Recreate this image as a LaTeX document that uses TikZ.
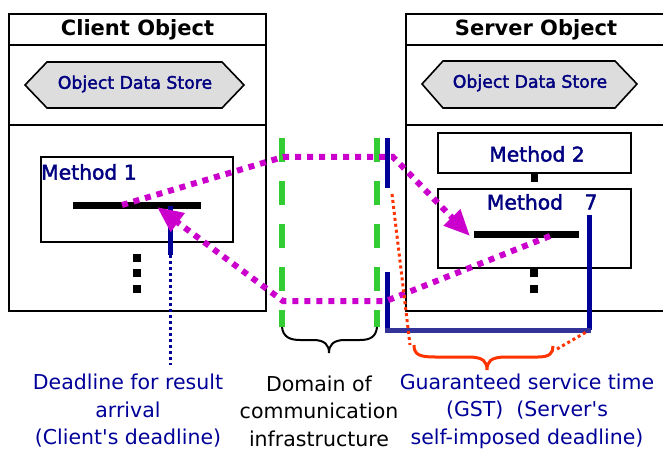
\documentclass[tikz,border=0pt]{standalone}
\usepackage{fontspec}
\setmainfont{DejaVu Sans}
\newfontfamily\semibold[FakeBold=2]{DejaVu Sans}
\newcommand\straightapos{\XeTeXglyph\XeTeXcharglyph"27\relax}
\usetikzlibrary{arrows.meta}
\definecolor{navy}{HTML}{000099}
\definecolor{txtnavy}{HTML}{000080}
\definecolor{mag}{HTML}{CC00CC}
\definecolor{grn}{HTML}{33CC33}
\definecolor{orng}{HTML}{FF3300}
\definecolor{hexgray}{HTML}{DDDDDD}
\definecolor{gstblue}{HTML}{333399}
\begin{document}
\begin{tikzpicture}[x=1pt,y=-1pt,
  frame/.style={draw=black, line width=2pt},
  hexa/.style={draw=black, fill=hexgray, line width=1.6pt},
  methodbox/.style={draw=black, line width=2pt, fill=white},
  titletext/.style={font=\fontsize{21}{24}\selectfont\bfseries, inner sep=0pt},
  storetext/.style={font=\fontsize{17.3}{20}\selectfont\semibold, text=txtnavy, inner sep=0pt},
  methodtext/.style={font=\fontsize{20.3}{24}\selectfont\semibold, text=txtnavy, inner sep=0pt},
  barline/.style={fill=black, inner sep=0pt, minimum height=7pt},
  dotsq/.style={fill=black, inner sep=0pt, minimum width=8pt, minimum height=8pt},
  deadline/.style={draw=navy, line width=5pt},
  msg/.style={draw=mag, line width=6pt, dash pattern=on 6pt off 6pt},
  msgtip/.style={-{Triangle[length=26pt,width=22pt]}},
  infra/.style={draw=grn, line width=6pt, dash pattern=on 24pt off 19pt},
  orangedot/.style={draw=orng, line width=3pt, dash pattern=on 3pt off 3pt},
  bluedot/.style={draw=navy, line width=3pt, dash pattern=on 3pt off 3pt},
  label/.style={font=\fontsize{20.5}{27.5}\selectfont, align=center, inner sep=0pt}
]
\useasboundingbox (0,0) rectangle (663,454);

% ---------- Client object ----------
\draw[frame] (9,14) rectangle (266,311);
\draw[frame] (9,45) -- (266,45);
\draw[frame] (9,125) -- (266,125);
\node[titletext] (ctitle) at (137.5,30) {Client Object};
\draw[hexa] (25,85) -- (47,62) -- (222,62) -- (244,85) -- (222,108) -- (47,108) -- cycle;
\node[storetext] (cstore) at (135,84) {Object Data Store};
\draw[methodbox] (41,157) rectangle (233,242);
\node[methodtext, anchor=west] (m1) at (41,172) {Method 1};
\node[barline, minimum width=128pt] (bar1) at (137,206) {};
\node[dotsq] (cd1) at (137,258) {};
\node[dotsq] (cd2) at (137,273) {};
\node[dotsq] (cd3) at (137,289) {};

% ---------- Server object ----------
\draw[frame] (406,14) rectangle (667,311);
\draw[frame] (406,45) -- (667,45);
\draw[frame] (406,125) -- (667,125);
\node[titletext] (stitle) at (536,30) {Server Object};
\draw[hexa] (422,84) -- (443,61) -- (615,61) -- (637,84) -- (615,108) -- (443,108) -- cycle;
\node[storetext] (sstore) at (530,83) {Object Data Store};
\draw[methodbox] (438,133) rectangle (631,173);
\node[methodtext] (m2) at (537,154) {Method 2};
\node[dotsq, minimum width=7pt] (sq) at (534,178) {};
\draw[methodbox] (438,189) rectangle (631,268);
\node[methodtext] (m7) at (525,202) {Method};
\node[methodtext] (m7n) at (591,202) {7};
\node[barline, minimum width=105pt] (bar7) at (526.5,234) {};
\node[dotsq] (sd1) at (534,273) {};
\node[dotsq] (sd2) at (534,289) {};

% ---------- communication infrastructure ----------
\coordinate (g1t) at (282,138); \coordinate (g1b) at (282,327);
\coordinate (g2t) at (377,138); \coordinate (g2b) at (377,327);
\draw[infra] (g1t) -- (g1b);
\draw[infra] (g2t) -- (g2b);

% ---------- deadlines ----------
\coordinate (cdl) at (170,206); \coordinate (cdlb) at (170,255); \coordinate (cdle) at (170,365);
\draw[deadline] (cdl) -- (cdlb);
\draw[bluedot] (cdlb) -- (cdle);
\coordinate (r1t) at (387,138); \coordinate (r1b) at (387,188);
\coordinate (r2t) at (387,272); \coordinate (gstl) at (387,330);
\coordinate (gstr) at (589,330); \coordinate (gstt) at (589,215);
\draw[deadline] (r1t) -- (r1b);
\draw[deadline] (r2t) -- (gstl);
\draw[deadline] (gstt) -- (gstr);
\draw[draw=gstblue, line width=5pt] (385,330) -- (591,330);

% ---------- messages ----------
\coordinate (req0) at (122,205);
\coordinate (req1) at (283,157);
\coordinate (req2) at (393,157);
\coordinate (req3) at (470,236);
\draw[msg, msgtip] (req0) -- (req1) -- (req2) -- (req3);
\coordinate (rep0) at (550,236);
\coordinate (rep1) at (386,301);
\coordinate (rep2) at (283,301);
\coordinate (rep3) at (157,207);
\draw[msg, msgtip] (rep0) -- (rep1) -- (rep2) -- (rep3);

% ---------- braces ----------
\draw[black, line width=2pt] (g1b) .. controls (283,337) and (290,340) .. (300,340) -- (313,340)
  .. controls (325,340) and (329,345) .. (329,353)
  .. controls (329,345) and (333,340) .. (345,340) -- (360,340)
  .. controls (370,340) and (376,337) .. (g2b);
\coordinate (ob1) at (392,194); \coordinate (ob2) at (410,345);
\draw[orangedot] (ob1) -- (ob2);
\coordinate (ob3) at (557,349);
\draw[orangedot] (ob3) -- (588,331);
\draw[orng, line width=3pt] (414,345) .. controls (414,355) and (420,357) .. (435,357) -- (468,357)
  .. controls (484,357) and (487,362) .. (487,370)
  .. controls (487,362) and (490,357) .. (506,357) -- (538,357)
  .. controls (550,357) and (553,353) .. (553,346);

% ---------- labels ----------
\node[label, text=navy] (lbl1) at (128,411) {Deadline for result\\arrival\\(Client\straightapos s deadline)};
\node[label, text=black] (lbl2) at (319,411) {Domain of\\communication\\infrastructure};
\node[label, text=navy] (lbl3) at (527,411) {Guaranteed service time\\(GST)\ \ (Server\straightapos s\\self-imposed deadline)};
\end{tikzpicture}
\end{document}
